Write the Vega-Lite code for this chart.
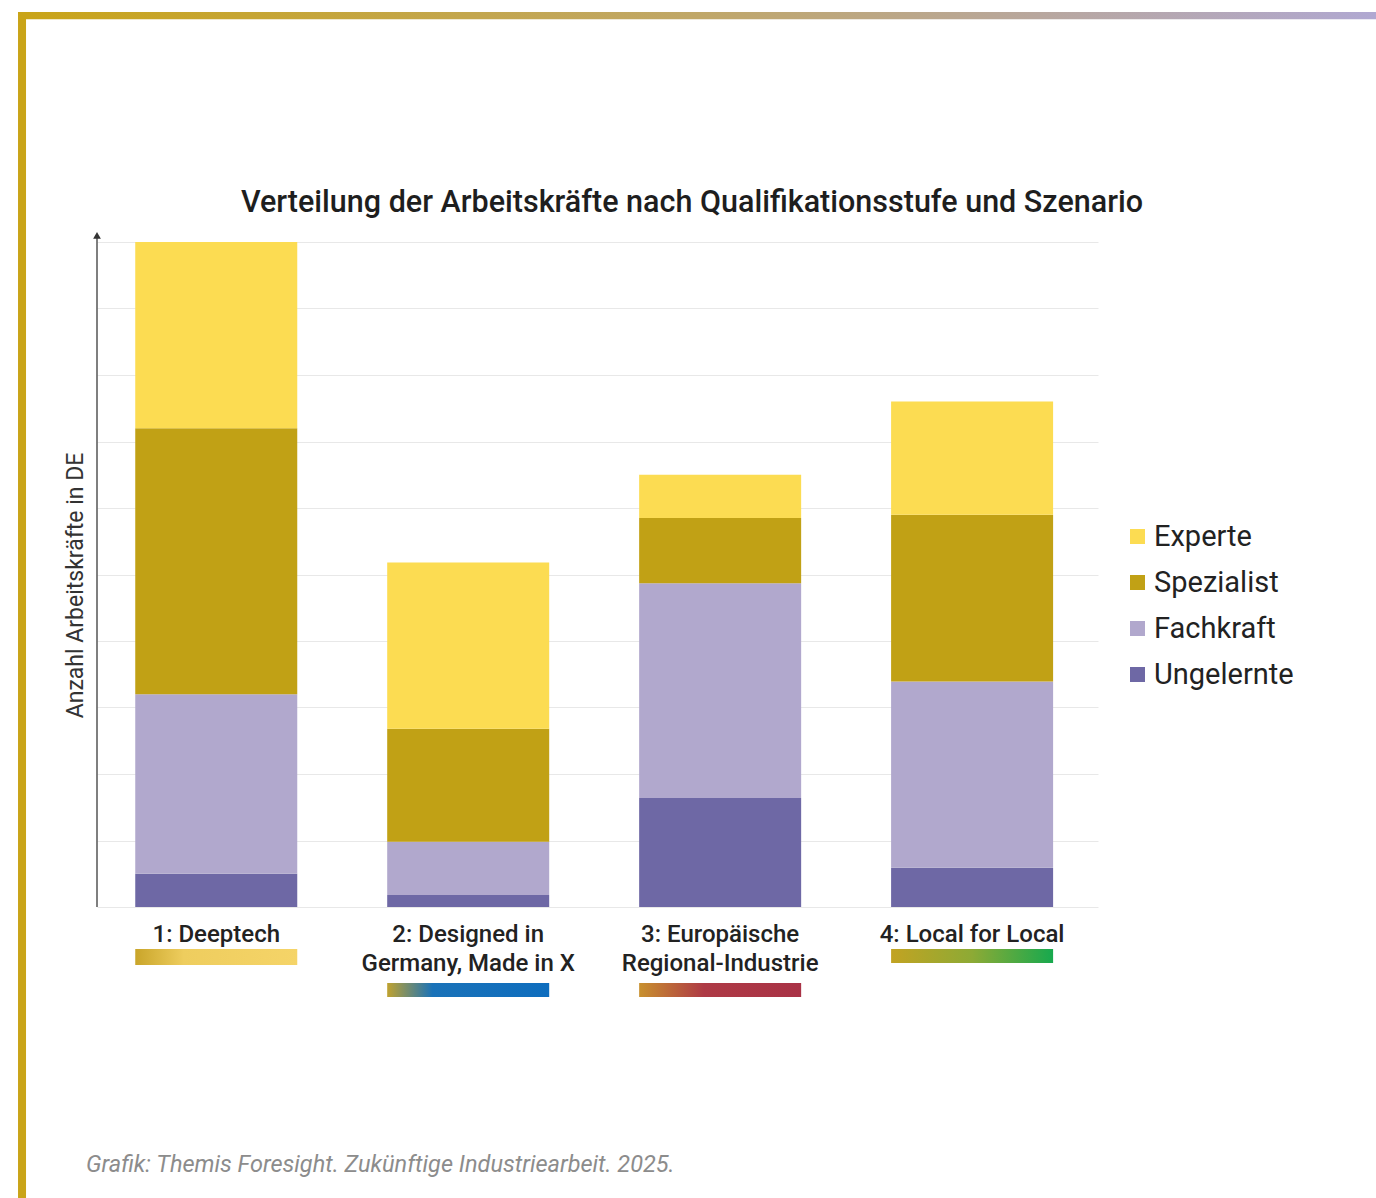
{
  "$schema": "https://vega.github.io/schema/vega-lite/v6.json",
  "width": 1001,
  "height": 665,
  "autosize": {"type": "none"},
  "padding": {"left": 97, "top": 242, "right": 278, "bottom": 291},
  "background": "white",
  "config": {
    "view": {"stroke": null},
    "font": "Roboto"
  },
  "resolve": {"scale": {"x": "independent"}},
  "layer": [
    {
      "layer": [
        {
          "data": {
            "values": [
              {"scenario": "1: Deeptech", "level": "Ungelernte", "value": 0.5},
              {"scenario": "1: Deeptech", "level": "Fachkraft", "value": 2.7},
              {"scenario": "1: Deeptech", "level": "Spezialist", "value": 4.0},
              {"scenario": "1: Deeptech", "level": "Experte", "value": 2.8},
              {"scenario": "2: Designed in Germany, Made in X", "level": "Ungelernte", "value": 0.18},
              {"scenario": "2: Designed in Germany, Made in X", "level": "Fachkraft", "value": 0.8},
              {"scenario": "2: Designed in Germany, Made in X", "level": "Spezialist", "value": 1.7},
              {"scenario": "2: Designed in Germany, Made in X", "level": "Experte", "value": 2.5},
              {"scenario": "3: Europäische Regional-Industrie", "level": "Ungelernte", "value": 1.64},
              {"scenario": "3: Europäische Regional-Industrie", "level": "Fachkraft", "value": 3.23},
              {"scenario": "3: Europäische Regional-Industrie", "level": "Spezialist", "value": 0.98},
              {"scenario": "3: Europäische Regional-Industrie", "level": "Experte", "value": 0.65},
              {"scenario": "4: Local for Local", "level": "Ungelernte", "value": 0.59},
              {"scenario": "4: Local for Local", "level": "Fachkraft", "value": 2.8},
              {"scenario": "4: Local for Local", "level": "Spezialist", "value": 2.51},
              {"scenario": "4: Local for Local", "level": "Experte", "value": 1.7}
            ]
          },
          "transform": [
            {"calculate": "indexof(['Ungelernte','Fachkraft','Spezialist','Experte'], datum.level)", "as": "stackOrder"}
          ],
          "mark": {"type": "bar"},
          "encoding": {
            "x": {
              "field": "scenario",
              "type": "nominal",
              "scale": {"paddingInner": 0.357, "paddingOuter": 0.165, "align": 0.46},
              "axis": {
                "title": null,
                "domain": false,
                "ticks": false,
                "labelAngle": 0,
                "labelFont": "Roboto",
                "labelFontSize": 24,
                "labelFontWeight": 500,
                "labelColor": "#222222",
                "labelPadding": 15,
                "labelLineHeight": 29,
                "labelLimit": 400,
                "labelExpr": "split(replace(replace(datum.label, ' in Germany', ' in|Germany'), ' Regional', '|Regional'), '|')"
              }
            },
            "y": {
              "field": "value",
              "type": "quantitative",
              "stack": "zero",
              "scale": {"domain": [0, 10], "nice": false},
              "axis": {
                "values": [0, 1, 2, 3, 4, 5, 6, 7, 8, 9, 10],
                "domain": false,
                "ticks": false,
                "labels": false,
                "grid": true,
                "gridColor": "#e8e8e8",
                "gridWidth": 1,
                "title": "Anzahl Arbeitskräfte in DE",
                "titleFont": "Roboto",
                "titleFontSize": 23,
                "titleFontWeight": "normal",
                "titleColor": "#333333",
                "titlePadding": 10,
                "titleY": 343
              }
            },
            "color": {
              "field": "level",
              "type": "nominal",
              "scale": {
                "domain": ["Experte", "Spezialist", "Fachkraft", "Ungelernte"],
                "range": ["#FCDC52", "#C1A115", "#B1A8CD", "#6E68A5"]
              },
              "legend": {
                "orient": "none",
                "legendX": 1026,
                "legendY": 280,
                "title": null,
                "labelFont": "Roboto",
                "labelFontSize": 29,
                "labelColor": "#222222",
                "symbolType": "square",
                "symbolSize": 225,
                "symbolStrokeWidth": 0,
                "rowPadding": 16,
                "labelOffset": 2,
                "labelLimit": 300
              }
            },
            "order": {"field": "stackOrder", "type": "quantitative"}
          }
        },
        {
          "data": {"values": [{"scenario": "1: Deeptech"}]},
          "mark": {"type": "rect", "color": {"gradient": "linear", "x1": 0, "y1": 0, "x2": 1, "y2": 0, "stops": [{"offset": 0, "color": "#C9A52A"}, {"offset": 0.3, "color": "#EECD5E"}, {"offset": 1, "color": "#F5D468"}]}},
          "encoding": {
            "x": {"field": "scenario", "type": "nominal"},
            "y": {"datum": -0.632, "type": "quantitative"},
            "y2": {"datum": -0.872}
          }
        },
        {
          "data": {"values": [{"scenario": "2: Designed in Germany, Made in X"}]},
          "mark": {"type": "rect", "color": {"gradient": "linear", "x1": 0, "y1": 0, "x2": 1, "y2": 0, "stops": [{"offset": 0, "color": "#BFA230"}, {"offset": 0.28, "color": "#1A72B8"}, {"offset": 1, "color": "#0E6DBE"}]}},
          "encoding": {
            "x": {"field": "scenario", "type": "nominal"},
            "y": {"datum": -1.143, "type": "quantitative"},
            "y2": {"datum": -1.353}
          }
        },
        {
          "data": {"values": [{"scenario": "3: Europäische Regional-Industrie"}]},
          "mark": {"type": "rect", "color": {"gradient": "linear", "x1": 0, "y1": 0, "x2": 1, "y2": 0, "stops": [{"offset": 0, "color": "#C8902E"}, {"offset": 0.4, "color": "#AE3A45"}, {"offset": 1, "color": "#A93246"}]}},
          "encoding": {
            "x": {"field": "scenario", "type": "nominal"},
            "y": {"datum": -1.143, "type": "quantitative"},
            "y2": {"datum": -1.353}
          }
        },
        {
          "data": {"values": [{"scenario": "4: Local for Local"}]},
          "mark": {"type": "rect", "color": {"gradient": "linear", "x1": 0, "y1": 0, "x2": 1, "y2": 0, "stops": [{"offset": 0, "color": "#C2A322"}, {"offset": 0.5, "color": "#8DAA35"}, {"offset": 1, "color": "#17A94E"}]}},
          "encoding": {
            "x": {"field": "scenario", "type": "nominal"},
            "y": {"datum": -0.632, "type": "quantitative"},
            "y2": {"datum": -0.842}
          }
        }
      ]
    },
    {
      "data": {"values": [{}]},
      "layer": [
        {
          "mark": {"type": "rect", "color": "#C9A418"},
          "encoding": {
            "x": {"datum": -0.0789, "type": "quantitative", "scale": {"domain": [0, 1], "nice": false, "zero": false}, "axis": null},
            "x2": {"datum": -0.0709},
            "y": {"datum": 13.46, "type": "quantitative"},
            "y2": {"datum": -4.5}
          }
        },
        {
          "mark": {"type": "rect", "color": {"gradient": "linear", "x1": 0, "y1": 0, "x2": 1, "y2": 0, "stops": [{"offset": 0, "color": "#C9A418"}, {"offset": 0.5, "color": "#C0A768"}, {"offset": 0.75, "color": "#B8A79E"}, {"offset": 1, "color": "#B0A8D2"}]}},
          "encoding": {
            "x": {"datum": -0.0789, "type": "quantitative", "scale": {"domain": [0, 1], "nice": false, "zero": false}, "axis": null},
            "x2": {"datum": 1.28},
            "y": {"datum": 13.46, "type": "quantitative"},
            "y2": {"datum": 13.35}
          }
        },
        {
          "mark": {"type": "rule", "color": "#555555", "strokeWidth": 1.5},
          "encoding": {
            "x": {"datum": 0, "type": "quantitative", "scale": {"domain": [0, 1], "nice": false, "zero": false}, "axis": null},
            "y": {"datum": 0, "type": "quantitative"},
            "y2": {"datum": 10.1}
          }
        },
        {
          "mark": {"type": "point", "shape": "triangle-up", "filled": true, "color": "#333333", "size": 60, "opacity": 1},
          "encoding": {
            "x": {"datum": 0, "type": "quantitative", "scale": {"domain": [0, 1], "nice": false, "zero": false}, "axis": null},
            "y": {"datum": 10.1, "type": "quantitative"}
          }
        },
        {
          "mark": {"type": "text", "text": "Verteilung der Arbeitskräfte nach Qualifikationsstufe und Szenario", "font": "Roboto", "fontWeight": 500, "fontSize": 30.5, "color": "#1e1e1e", "align": "center", "baseline": "alphabetic"},
          "encoding": {
            "x": {"datum": 0.5944, "type": "quantitative", "scale": {"domain": [0, 1], "nice": false, "zero": false}, "axis": null},
            "y": {"datum": 10.451, "type": "quantitative"}
          }
        },
        {
          "mark": {"type": "text", "text": "Grafik: Themis Foresight. Zukünftige Industriearbeit. 2025.", "font": "Roboto", "fontStyle": "italic", "fontSize": 23.5, "color": "#8c8c8c", "align": "left", "baseline": "alphabetic"},
          "encoding": {
            "x": {"datum": -0.011, "type": "quantitative", "scale": {"domain": [0, 1], "nice": false, "zero": false}, "axis": null},
            "y": {"datum": -3.985, "type": "quantitative"}
          }
        }
      ]
    }
  ]
}
